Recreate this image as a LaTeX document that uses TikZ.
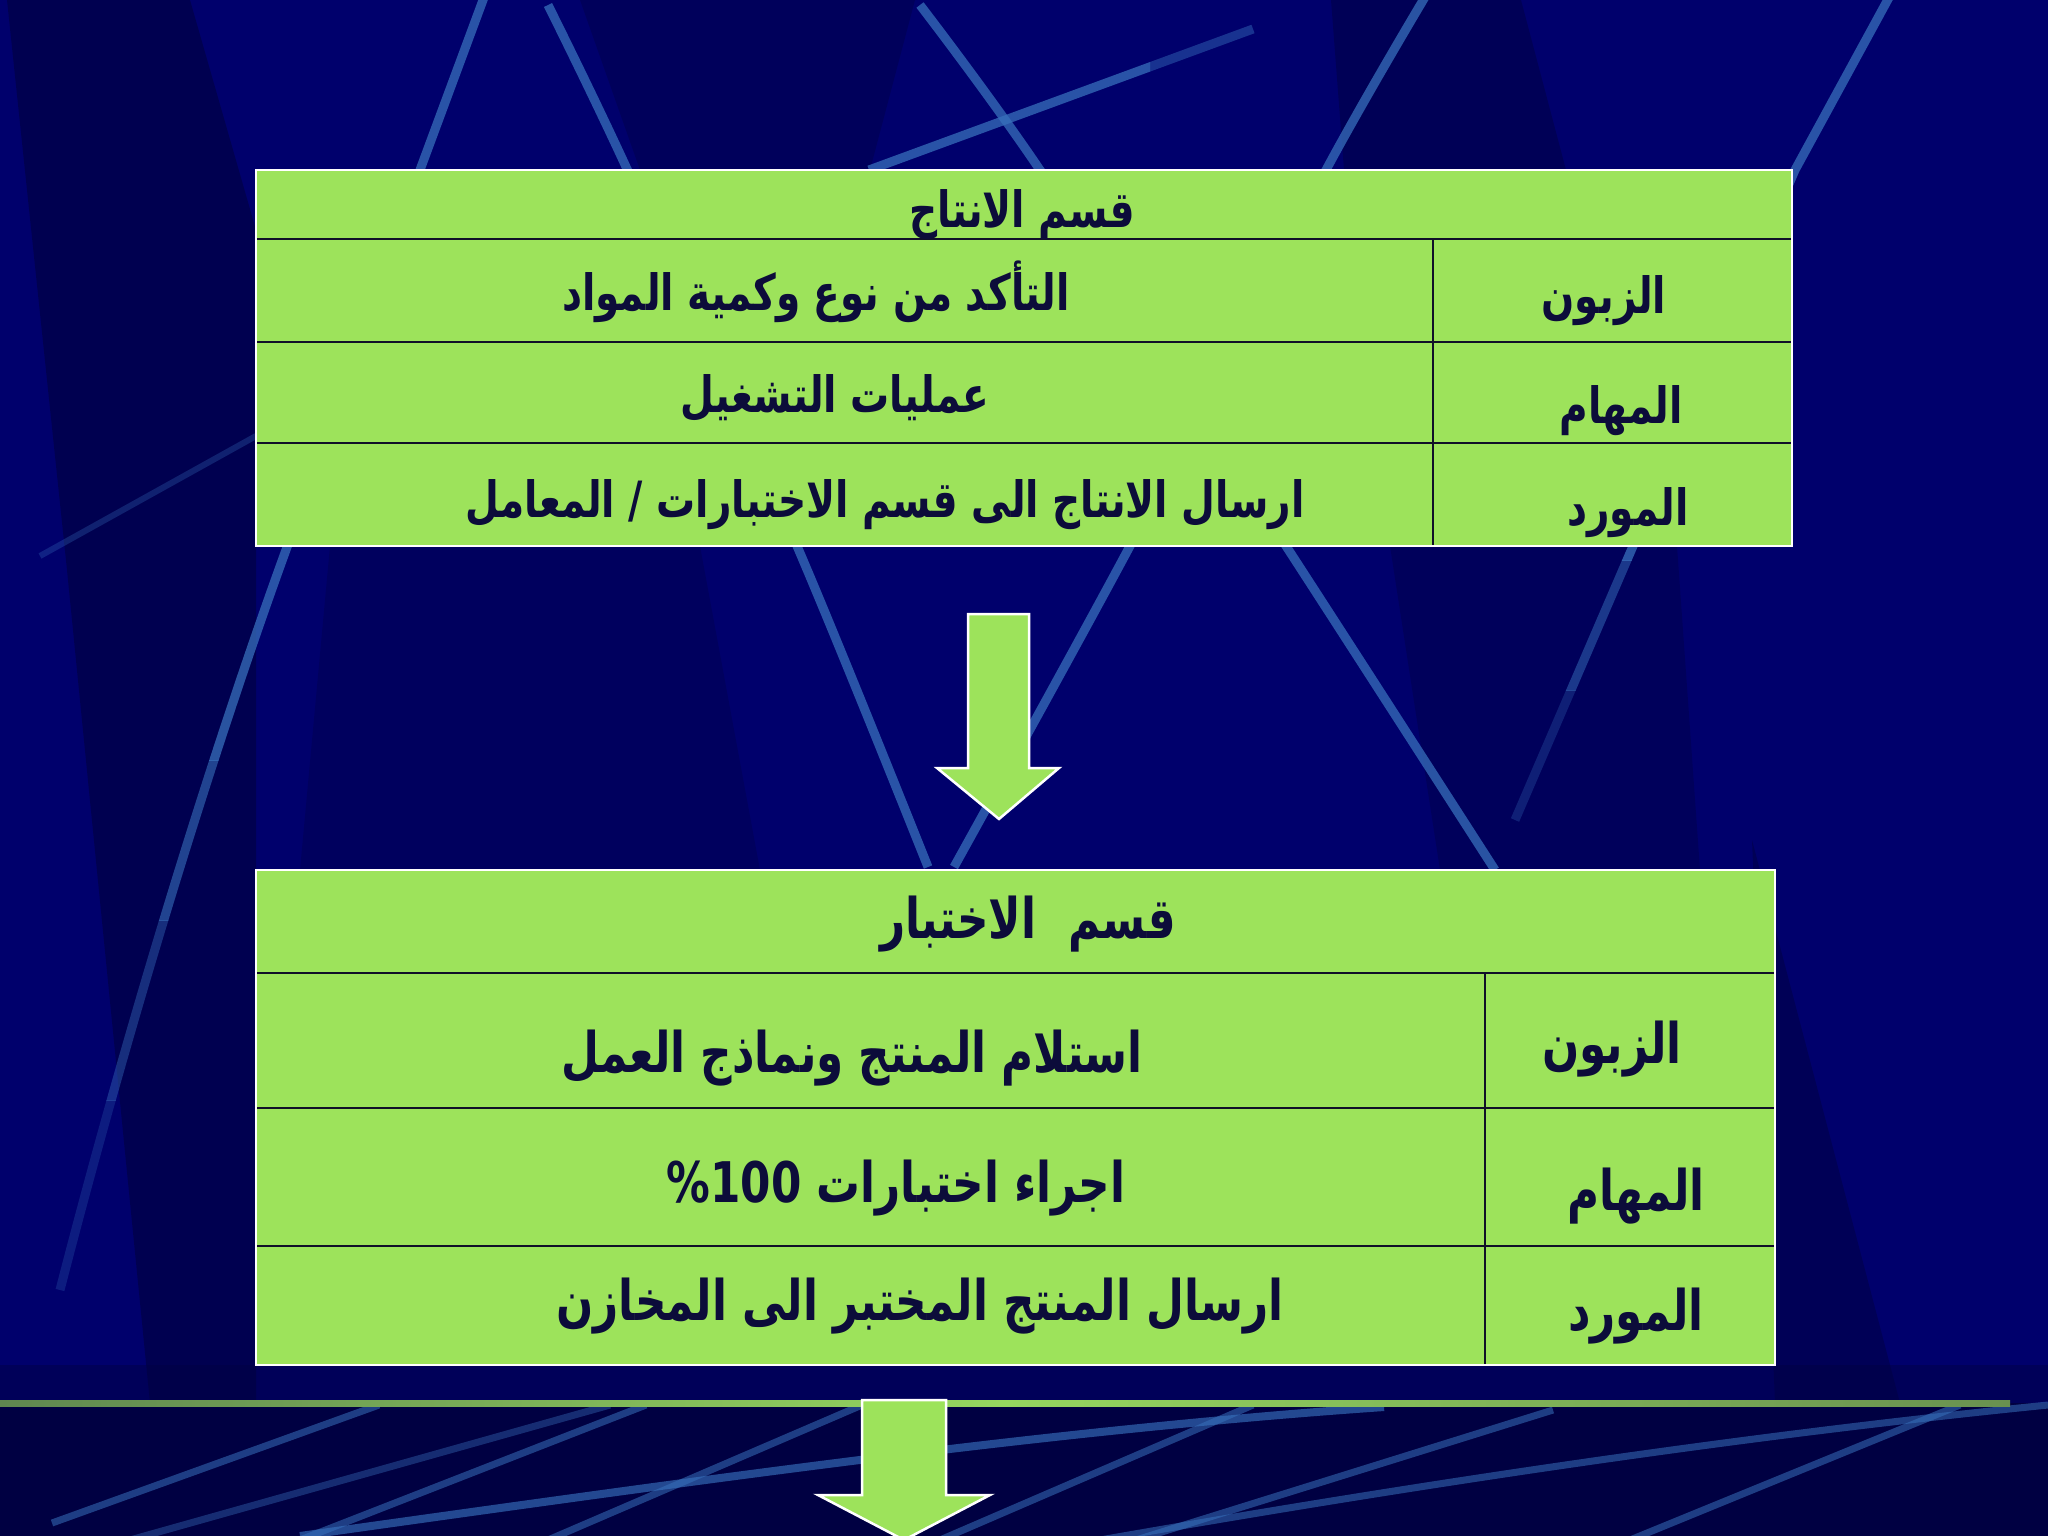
\documentclass[tikz,border=0pt]{standalone}
\usepackage{fontspec}
\newfontfamily\arabicfont[Script=Arabic,FakeStretch=0.78]{DejaVu Sans}
\TeXXeTstate=1
\definecolor{bgbase}{RGB}{0,0,108}
\definecolor{bgdark}{RGB}{0,0,66}
\definecolor{lineblue}{RGB}{55,112,188}
\definecolor{cellgreen}{RGB}{157,227,91}
\definecolor{textc}{RGB}{12,12,58}
\definecolor{rulec}{RGB}{16,16,40}
\definecolor{hlleft}{RGB}{95,135,80}
\definecolor{hlright}{RGB}{105,145,80}
\definecolor{glowgreen}{RGB}{150,215,95}
\newcommand\myLineA{(486,-8) -- (420,170) -- (297,520) .. controls (230,700) and (140,980) .. (60,1290)}
\newcommand\myLineF{(1892,-8) -- (1795,170) -- (1515,820)}
\tikzset{
  bgline/.style={line width=9, draw=lineblue, opacity=0.75, line cap=butt, line join=round},
  lowline/.style={line width=7, draw=lineblue, opacity=0.55, line cap=butt},
  darkpoly/.style={fill=black, opacity=0.15},
  tablebox/.style={fill=cellgreen},
  rule/.style={draw=rulec, line width=2.5},
  vrule/.style={draw=rulec, line width=1.8},
  blockarrow/.style={fill=cellgreen, draw=white, line width=2.5, line join=miter},
  txtA/.style={anchor=base, text=textc, inner sep=0, font=\arabicfont\bfseries\fontsize{50}{60}\selectfont},
  txtB/.style={anchor=base, text=textc, inner sep=0, font=\arabicfont\bfseries\fontsize{56}{66}\selectfont}
}
\begin{document}
\begin{tikzpicture}[x=1pt,y=-1pt]
\useasboundingbox (0,0) rectangle (2048,1536);
% background
\fill[bgbase] (0,0) rectangle (2048,1536);
\fill[darkpoly,opacity=0.25] (7,0) -- (190,0) -- (256,230) -- (256,1403) -- (150,1403) -- (67,570) -- cycle;
\fill[darkpoly] (580,0) -- (915,0) -- (870,170) -- (640,170) -- cycle;
\fill[darkpoly,opacity=0.2] (1331,0) -- (1521,0) -- (1566,170) -- (1344,170) -- cycle;
\fill[darkpoly] (1390,546) -- (1677,546) -- (1700,870) -- (1440,870) -- cycle;
\fill[darkpoly,opacity=0.2] (1752,840) -- (1900,1403) -- (1775,1403) -- cycle;
\fill[darkpoly,opacity=0.12] (330,546) -- (700,546) -- (760,870) -- (300,870) -- cycle;
% upper light lines (ends fading by steps)
\begin{scope}\clip (-10,-10) rectangle (2060,760); \draw[bgline] \myLineA; \end{scope}
\begin{scope}\clip (-10,760) rectangle (2060,920); \draw[bgline,opacity=0.6] \myLineA; \end{scope}
\begin{scope}\clip (-10,920) rectangle (2060,1100); \draw[bgline,opacity=0.42] \myLineA; \end{scope}
\begin{scope}\clip (-10,1100) rectangle (2060,1400); \draw[bgline,opacity=0.25] \myLineA; \end{scope}
\draw[bgline] plot[smooth] coordinates {(548,5) (627,169) (797,546) (928,867)};
\draw[bgline] plot[smooth] coordinates {(920,5) (1040,170) (1286,546) (1495,870)};
\begin{scope}\clip (800,0) rectangle (1150,200); \draw[bgline] (869,170) -- (1253,29); \end{scope}
\begin{scope}\clip (1150,0) rectangle (1300,200); \draw[bgline,opacity=0.45] (869,170) -- (1253,29); \end{scope}
\draw[bgline] plot[smooth] coordinates {(1428,-8) (1326,170) (1130,546) (954,867)};
\begin{scope}\clip (1400,-10) rectangle (2060,560); \draw[bgline] \myLineF; \end{scope}
\begin{scope}\clip (1400,560) rectangle (2060,690); \draw[bgline,opacity=0.5] \myLineF; \end{scope}
\begin{scope}\clip (1400,690) rectangle (2060,900); \draw[bgline,opacity=0.28] \myLineF; \end{scope}
\draw[bgline,line width=6,opacity=0.3] (40,556) -- (256,436);
% bottom band
\fill[bgdark] (0,1403) rectangle (2048,1536);
\fill[bgdark,opacity=0.45] (0,1365) rectangle (2048,1403);
\draw[lowline] (379,1405) -- (52,1523);
\draw[lowline] (646,1405) -- (300,1540);
\draw[lowline,opacity=0.4] (610,1405) -- (130,1540);
\draw[lowline] (862,1405) -- (548,1540);
\draw[lowline] (1253,1405) -- (940,1540);
\draw[lowline] (1553,1410) -- (1136,1540);
\draw[lowline] (1960,1405) -- (1630,1540);
\draw[lowline,opacity=0.65,line width=8] (300,1536) .. controls (700,1480) and (1050,1430) .. (1384,1407);
\draw[lowline] (1100,1540) .. controls (1500,1470) and (1800,1430) .. (2048,1405);
\shade[left color=hlleft, right color=hlright, middle color=glowgreen] (0,1400) rectangle (2010,1406);
% table 1
\fill[tablebox] (256,170) rectangle (1792,546);
\draw[rule] (256,239) -- (1792,239);
\draw[rule] (256,342) -- (1792,342);
\draw[rule] (256,443) -- (1792,443);
\draw[vrule] (1433,239) -- (1433,546);
\draw[draw=white, line width=2.5] (256,170) rectangle (1792,546);
\node[txtA] (h1) at (1022,227) {\beginR قسم الانتاج\endR};
\node[txtA] (c11) at (816,310) {\beginR التأكد من نوع وكمية المواد\endR};
\node[txtA] (l11) at (1604,313) {\beginR الزبون\endR};
\node[txtA] (c12) at (835,412) {\beginR عمليات التشغيل\endR};
\node[txtA] (l12) at (1621,423) {\beginR المهام\endR};
\node[txtA] (c13) at (885,517) {\beginR ارسال الانتاج الى قسم الاختبارات / المعامل\endR};
\node[txtA] (l13) at (1628,525) {\beginR المورد\endR};
% arrow 1
\draw[blockarrow] (968,614) -- (1029,614) -- (1029,768) -- (1059,768) -- (999,819) -- (937,768) -- (968,768) -- cycle;
% table 2
\fill[tablebox] (256,870) rectangle (1775,1365);
\draw[rule] (256,973) -- (1775,973);
\draw[rule] (256,1108) -- (1775,1108);
\draw[rule] (256,1246) -- (1775,1246);
\draw[vrule] (1485,973) -- (1485,1365);
\draw[draw=white, line width=2.5] (256,870) rectangle (1775,1365);
\node[txtB] (h2) at (1028,938) {\beginR قسم\hspace{0.3em} الاختبار\endR};
\node[txtB] (c21) at (852,1072) {\beginR استلام المنتج ونماذج العمل\endR};
\node[txtB] (l21) at (1612,1063) {\beginR الزبون\endR};
\node[txtB] (c22) at (896,1202) {\beginR اجراء اختبارات \beginL\%100\endL\endR};
\node[txtB] (l22) at (1636,1210) {\beginR المهام\endR};
\node[txtB] (c23) at (920,1320) {\beginR ارسال المنتج المختبر الى المخازن\endR};
\node[txtB] (l23) at (1636,1330) {\beginR المورد\endR};
% arrow 2
\draw[blockarrow] (862,1400) -- (946,1400) -- (946,1495) -- (990,1495) -- (904,1540) -- (818,1495) -- (862,1495) -- cycle;
\end{tikzpicture}
\end{document}
